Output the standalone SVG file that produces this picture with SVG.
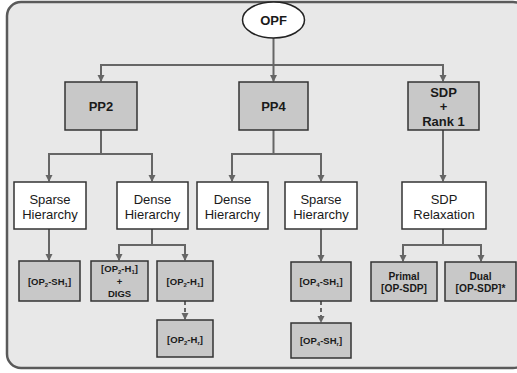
<svg xmlns="http://www.w3.org/2000/svg" width="517" height="373" viewBox="0 0 517 373">
<defs>
<marker id="arr" markerWidth="8" markerHeight="8" refX="6" refY="4" orient="auto" markerUnits="userSpaceOnUse">
<path d="M0,0.5 L7,4 L0,7.5 Z" fill="#666"/>
</marker>
<style>
.bg{fill:#e8e8e8;stroke:#5a5a5a;stroke-width:2.5}
.g{fill:#c8c8c8;stroke:#333;stroke-width:1.5}
.w{fill:#fff;stroke:#333;stroke-width:1.5}
.c{fill:none;stroke:#666;stroke-width:2}
.d{fill:none;stroke:#666;stroke-width:2;stroke-dasharray:4 3}
.tb{font-family:"Liberation Sans",Arial,sans-serif;font-weight:bold;font-size:13px;fill:#1a1a1a;text-anchor:middle}
.tn{font-family:"Liberation Sans",Arial,sans-serif;font-size:13px;fill:#1a1a1a;text-anchor:middle}
.ts{font-family:"Liberation Sans",Arial,sans-serif;font-weight:bold;font-size:9.5px;fill:#1a1a1a;text-anchor:middle}
.tp{font-family:"Liberation Sans",Arial,sans-serif;font-weight:bold;font-size:10.2px;fill:#1a1a1a;text-anchor:middle}
.sub{font-size:6px}
</style>
</defs>
<rect class="bg" x="7" y="2" width="520" height="366" rx="14"/>
<g id="connectors">
<path class="c" d="M273.5,38 V81" marker-end="url(#arr)"/>
<path class="c" d="M101,81 V65 H443 V81" marker-end="url(#arr)"/>
<path class="c" d="M101,65 V81" marker-end="url(#arr)"/>
<path class="c" d="M101,130 V154 M49,181 V154 H152 V181" marker-end="url(#arr)"/>
<path class="c" d="M49,154 V181" marker-end="url(#arr)"/>
<path class="c" d="M273.5,130 V154 M232,181 V154 H321 V181" marker-end="url(#arr)"/>
<path class="c" d="M232,154 V181" marker-end="url(#arr)"/>
<path class="c" d="M443,130 V181" marker-end="url(#arr)"/>
<path class="c" d="M49,229 V260" marker-end="url(#arr)"/>
<path class="c" d="M152,229 V245 M119,260 V245 H185 V260" marker-end="url(#arr)"/>
<path class="c" d="M119,245 V260" marker-end="url(#arr)"/>
<path class="d" d="M185,301 V319" marker-end="url(#arr)"/>
<path class="c" d="M321,229 V261" marker-end="url(#arr)"/>
<path class="d" d="M321,301 V322" marker-end="url(#arr)"/>
<path class="c" d="M443,229 V245 M403,261 V245 H481 V261" marker-end="url(#arr)"/>
<path class="c" d="M403,245 V261" marker-end="url(#arr)"/>
</g>
<g id="opf"><ellipse cx="273.5" cy="20" rx="31" ry="18" fill="#fff" stroke="#222" stroke-width="1.5"/><text class="tb" x="273.5" y="25">OPF</text></g>
<g id="pp2"><rect class="g" x="65" y="82" width="72" height="48"/><text class="tb" x="101" y="111">PP2</text></g>
<g id="pp4"><rect class="g" x="239" y="82" width="69" height="48"/><text class="tb" x="273.5" y="111">PP4</text></g>
<g id="sdprank"><rect class="g" x="408" y="82" width="71" height="48"/><text class="tb" x="443.5" y="97">SDP</text><text class="tb" x="443.5" y="111">+</text><text class="tb" x="443.5" y="126">Rank 1</text></g>
<g id="sparse2"><rect class="w" x="14" y="182" width="72" height="47"/><text class="tn" x="50" y="204">Sparse</text><text class="tn" x="50" y="219">Hierarchy</text></g>
<g id="dense2"><rect class="w" x="117" y="182" width="71" height="47"/><text class="tn" x="152.5" y="204">Dense</text><text class="tn" x="152.5" y="219">Hierarchy</text></g>
<g id="dense4"><rect class="w" x="197" y="182" width="71" height="47"/><text class="tn" x="232.5" y="204">Dense</text><text class="tn" x="232.5" y="219">Hierarchy</text></g>
<g id="sparse4"><rect class="w" x="285" y="182" width="72" height="47"/><text class="tn" x="321" y="204">Sparse</text><text class="tn" x="321" y="219">Hierarchy</text></g>
<g id="sdprelax"><rect class="w" x="402" y="182" width="84" height="47"/><text class="tn" x="444" y="204">SDP</text><text class="tn" x="444" y="219">Relaxation</text></g>
<g id="op2sh1"><rect class="g" x="19" y="261" width="61" height="40"/><text class="ts" x="49.5" y="285">[OP<tspan class="sub" dy="2">2</tspan><tspan dy="-2">-SH</tspan><tspan class="sub" dy="2">1</tspan><tspan dy="-2">]</tspan></text></g>
<g id="op2h1digs"><rect class="g" x="91" y="261" width="57" height="40"/><text class="ts" x="119.5" y="272">[OP<tspan class="sub" dy="2">2</tspan><tspan dy="-2">-H</tspan><tspan class="sub" dy="2">1</tspan><tspan dy="-2">]</tspan></text><text class="ts" x="119.5" y="285">+</text><text class="ts" x="119.5" y="297">DIGS</text></g>
<g id="op2h1"><rect class="g" x="157" y="261" width="56" height="40"/><text class="ts" x="185" y="285">[OP<tspan class="sub" dy="2">2</tspan><tspan dy="-2">-H</tspan><tspan class="sub" dy="2">1</tspan><tspan dy="-2">]</tspan></text></g>
<g id="op2hr"><rect class="g" x="157" y="320" width="56" height="37"/><text class="ts" x="185" y="343">[OP<tspan class="sub" dy="2">2</tspan><tspan dy="-2">-H</tspan><tspan class="sub" dy="2">r</tspan><tspan dy="-2">]</tspan></text></g>
<g id="op4sh1"><rect class="g" x="291" y="262" width="60" height="39"/><text class="ts" x="321" y="285">[OP<tspan class="sub" dy="2">4</tspan><tspan dy="-2">-SH</tspan><tspan class="sub" dy="2">1</tspan><tspan dy="-2">]</tspan></text></g>
<g id="op4shr"><rect class="g" x="291" y="323" width="60" height="35"/><text class="ts" x="321" y="344">[OP<tspan class="sub" dy="2">4</tspan><tspan dy="-2">-SH</tspan><tspan class="sub" dy="2">r</tspan><tspan dy="-2">]</tspan></text></g>
<g id="primal"><rect class="g" x="371" y="262" width="66" height="39"/><text class="tp" x="404" y="280">Primal</text><text class="tp" x="404" y="292">[OP-SDP]</text></g>
<g id="dual"><rect class="g" x="445" y="262" width="71" height="39"/><text class="tp" x="480.5" y="280">Dual</text><text class="tp" x="480.5" y="292">[OP-SDP]*</text></g>
</svg>
